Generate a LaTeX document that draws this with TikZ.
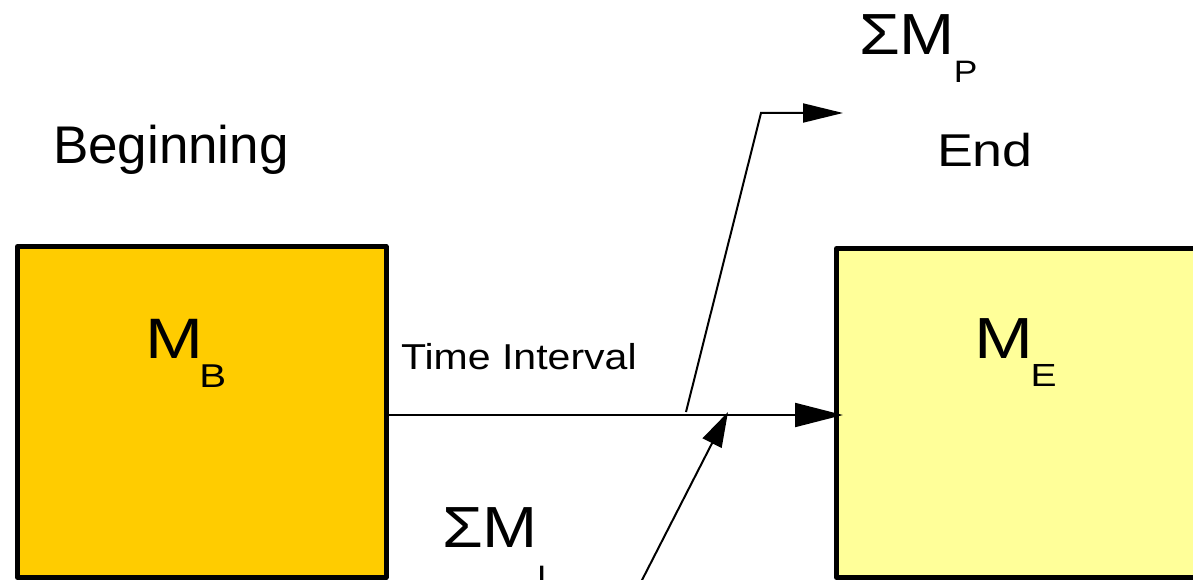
\documentclass[tikz,border=0pt]{standalone}
\usepackage{fontspec}
\usepackage{graphicx}
\setmainfont{Liberation Sans}
\usetikzlibrary{arrows.meta}
\definecolor{boxB}{HTML}{FFCC00}
\definecolor{boxE}{HTML}{FFFF99}
\newcommand{\fs}[1]{\fontsize{#1}{#1}\selectfont}
\begin{document}
\begin{tikzpicture}[x=1pt,y=-1pt,
  massbox/.style={draw=black,line width=5pt,rectangle,inner sep=0pt,line join=round},
  lbl/.style={inner sep=0pt,outer sep=0pt,anchor=base west},
  conn/.style={line width=2pt,black},
  bigtip/.style={-{Triangle[length=48pt,width=24pt]}},
  midtip/.style={-{Triangle[length=40pt,width=19pt]}},
  smalltip/.style={-{Triangle[length=35pt,width=21pt]}}]
\clip (0,0) rectangle (1193,580);
\fill[white] (0,0) rectangle (1193,580);
% boxes
\node[massbox,fill=boxB,minimum width=368.5pt,minimum height=331pt] (b) at (201.75,412) {};
\node[massbox,fill=boxE,minimum width=400pt,minimum height=329pt] (e) at (1036.5,413) {};
% labels
\node[lbl] (beg) at (53,164) {\fs{53}Beginning};
\node[lbl] (end) at (937,167) {\scalebox{1.17}[1]{\fs{46}End}};
\node[lbl] (ti) at (401,369) {\scalebox{1.14}[1]{\fs{36}Time Interval}};
\node[lbl] (mb) at (145,358) {\scalebox{1.22}[1]{\fs{57}M\kern-3pt\raisebox{-29pt}{\fs{33}B}}};
\node[lbl] (me) at (974,358) {\scalebox{1.22}[1]{\fs{58}M\kern-2pt\raisebox{-28pt}{\fs{32}E}}};
\node[lbl] (sp) at (859,55) {\scalebox{1.14}[1]{\fs{58}ΣM\kern-1pt\raisebox{-28pt}{\fs{31}P}}};
\node[lbl] (si) at (442,547) {\scalebox{1.14}[1]{\fs{58}ΣM\kern-1pt\raisebox{-40pt}{\fs{31}I}}};
% connectors
\coordinate (pstart) at (686,412);
\coordinate (pbend) at (761,113);
\coordinate (pend) at (843,113);
\coordinate (istart) at (640,584);
\coordinate (iend) at (728,412);
\draw[conn,bigtip] ([yshift=-3pt]b.east) -- ([xshift=9pt,yshift=-2pt]e.west);
\draw[conn,midtip] (pstart) -- (pbend) -- (pend);
\draw[conn,smalltip] (istart) -- (iend);
\end{tikzpicture}
\end{document}
